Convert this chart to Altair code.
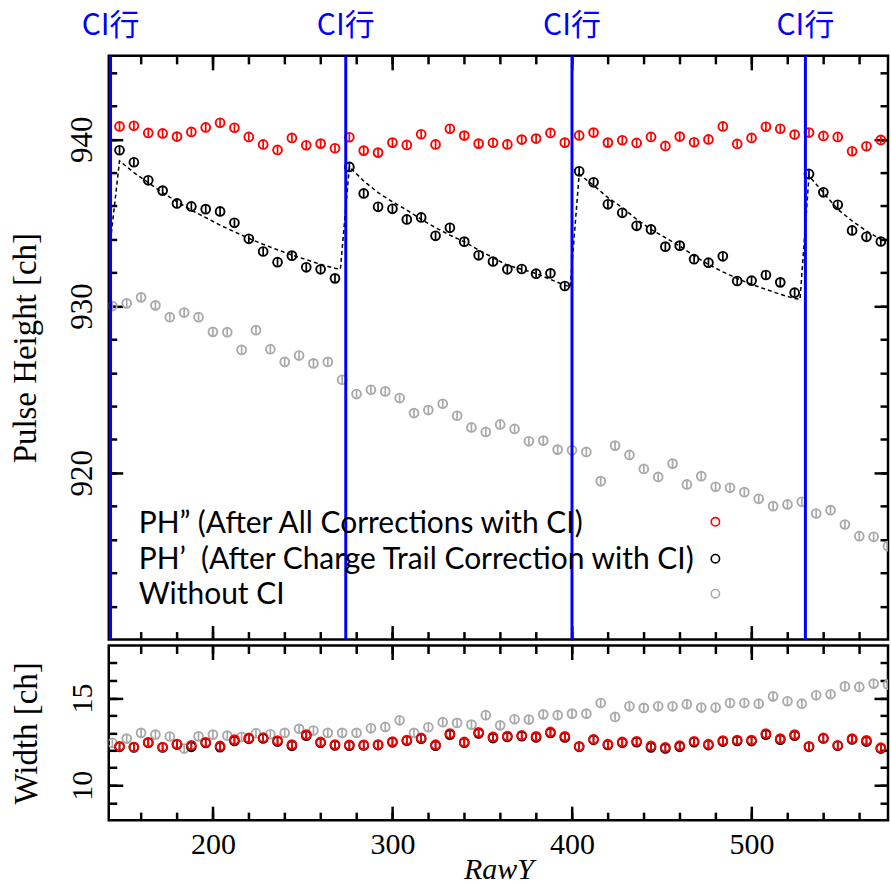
import altair as alt
import pandas as pd

# ---------------- data ----------------
ci_rows = [143, 274, 400, 530]
ci_text = ["CI行", "CI行", "CI行", "CI行"]

rawy_ci = [148, 156, 164, 172, 180, 188, 196, 204, 212, 220, 228, 236, 244, 252, 260, 268,
           276, 284, 292, 300, 308, 316, 324, 332, 340, 348, 356, 364, 372, 380, 388, 396,
           404, 412, 420, 428, 436, 444, 452, 460, 468, 476, 484, 492, 500, 508, 516, 524,
           532, 540, 548, 556, 564, 572]
rawy_noci = [144, 152, 160, 168, 176, 184, 192, 200, 208, 216, 224, 232, 240, 248, 256, 264,
             272, 280, 288, 296, 304, 312, 320, 328, 336, 344, 352, 360, 368, 376, 384, 392,
             400, 408, 416, 424, 432, 440, 448, 456, 464, 472, 480, 488, 496, 504, 512, 520,
             528, 536, 544, 552, 560, 568, 576]

ph_all = [940.77, 940.81, 940.38, 940.35, 940.16, 940.44, 940.71, 940.99, 940.69, 940.14,
          939.69, 939.36, 940.08, 939.64, 939.74, 939.46, 940.12, 939.32, 939.20, 939.80,
          939.66, 940.30, 939.69, 940.63, 940.22, 939.74, 939.79, 939.69, 939.98, 940.04,
          940.38, 939.80, 940.23, 940.40, 939.80, 939.94, 939.78, 940.14, 939.60, 940.16,
          939.82, 939.99, 940.77, 939.72, 940.08, 940.75, 940.63, 940.28, 940.40, 940.20,
          940.14, 939.28, 939.58, 939.96]
ph_trail = [939.34, 938.62, 937.54, 936.92, 936.15, 935.97, 935.81, 935.67, 934.99, 934.03,
            933.27, 932.63, 933.02, 932.32, 932.20, 931.66, 938.34, 936.75, 935.95, 935.83,
            935.19, 935.31, 934.21, 934.69, 933.86, 933.04, 932.67, 932.20, 932.22, 931.94,
            931.96, 931.20, 938.08, 937.42, 936.10, 935.59, 934.81, 934.59, 933.56, 933.62,
            932.81, 932.60, 932.98, 931.50, 931.52, 931.86, 931.42, 930.80, 937.92, 936.82,
            936.07, 934.53, 934.15, 933.87]
ph_noci = [930.00, 930.16, 930.52, 930.04, 929.33, 929.61, 929.33, 928.45, 928.43, 927.37,
           928.55, 927.41, 926.65, 927.03, 926.56, 926.65, 925.58, 924.72, 924.98, 924.88,
           924.48, 923.58, 923.76, 924.14, 923.42, 922.72, 922.45, 922.90, 922.63, 921.89,
           921.93, 921.39, 921.35, 921.25, 919.50, 921.63, 921.07, 920.23, 919.75, 920.55,
           919.30, 919.80, 919.16, 919.10, 918.84, 918.44, 918.00, 918.10, 918.26, 917.56,
           917.76, 916.90, 916.20, 916.16, 915.60]

model_rawy = [143, 148, 156, 164, 172, 180, 188, 196, 204, 212, 220, 228, 236, 244, 252, 260, 268,
              271, 276, 284, 292, 300, 308, 316, 324, 332, 340, 348, 356, 364, 372, 380, 388, 396,
              399, 404, 412, 420, 428, 436, 444, 452, 460, 468, 476, 484, 492, 500, 508, 516, 524,
              527, 532, 540, 548, 556, 564, 572]
model_ph = [933.95, 938.70, 938.00, 937.40, 936.80, 936.25, 935.75, 935.30, 934.85, 934.45, 934.06,
            933.70, 933.37, 933.06, 932.78, 932.50, 932.26,
            932.20, 938.34, 937.50, 936.80, 936.25, 935.75, 935.20, 934.70, 934.25, 933.85, 933.35,
            932.90, 932.45, 932.20, 931.95, 931.60, 931.25,
            931.15, 937.90, 937.24, 936.50, 935.90, 935.20, 934.60, 934.10, 933.60, 933.00, 932.50,
            932.05, 931.65, 931.30, 931.00, 930.70, 930.45,
            930.40, 937.80, 936.80, 935.80, 935.10, 934.50, 934.00]

w_all = [12.23, 12.19, 12.46, 12.19, 12.36, 12.29, 12.46, 12.25, 12.61, 12.71,
         12.73, 12.56, 12.33, 12.90, 12.48, 12.33, 12.31, 12.31, 12.33, 12.50,
         12.59, 12.71, 12.32, 12.96, 12.48, 13.03, 12.77, 12.82, 12.86, 12.80,
         13.05, 12.80, 12.23, 12.63, 12.35, 12.48, 12.52, 12.25, 12.17, 12.27,
         12.52, 12.35, 12.56, 12.59, 12.59, 12.96, 12.67, 12.90, 12.23, 12.71,
         12.29, 12.67, 12.57, 12.15]
w_trail = [12.20, 12.17, 12.44, 12.16, 12.33, 12.20, 12.42, 12.18, 12.54, 12.66,
           12.68, 12.50, 12.26, 12.84, 12.44, 12.28, 12.27, 12.28, 12.30, 12.46,
           12.55, 12.66, 12.27, 12.90, 12.44, 12.97, 12.70, 12.77, 12.81, 12.74,
           13.00, 12.74, 12.20, 12.60, 12.31, 12.44, 12.47, 12.17, 12.11, 12.20,
           12.47, 12.30, 12.50, 12.54, 12.53, 12.90, 12.61, 12.84, 12.20, 12.68,
           12.26, 12.62, 12.50, 12.10]
w_noci = [12.42, 12.67, 13.00, 12.90, 12.79, 12.10, 12.80, 12.90, 12.84, 12.77,
          12.98, 12.92, 13.00, 13.23, 13.13, 13.00, 13.00, 13.00, 13.26, 13.34,
          13.72, 13.00, 13.32, 13.61, 13.57, 13.47, 14.01, 13.43, 13.78, 13.76,
          14.06, 14.01, 14.10, 14.10, 14.71, 13.91, 14.52, 14.43, 14.52, 14.52,
          14.64, 14.45, 14.45, 14.71, 14.71, 14.67, 15.09, 14.81, 14.67, 15.15,
          15.21, 15.66, 15.63, 15.82, 15.76]

ph_err = 0.22
w_err = 0.22

legend_labels = ["PH\u201d (After All Corrections with CI)",
                 "PH\u2019\u00a0 (After Charge Trail Correction with CI)",
                 "Without CI"]

x_major = [200, 300, 400, 500]
x_minor = [160, 180, 200, 220, 240, 260, 280, 300, 320, 340, 360, 380, 400, 420, 440, 460,
           480, 500, 520, 540, 560]
ph_major = [920, 930, 940]
ph_minor = [912, 914, 916, 918, 920, 922, 924, 926, 928, 930, 932, 934, 936, 938, 940, 942, 944]
w_major = [10, 15]
w_minor = [9, 10, 11, 12, 13, 14, 15, 16, 17]

RED, BLACK, GRAY, BLUE = "#ff0000", "#000000", "#aaaaaa", "#0000ff"
W = 781
H_TOP, H_BOT = 585, 175
SERIF = "Liberation Serif"

XS = alt.Scale(domain=[142, 576], nice=False, zero=False)
YS_TOP = alt.Scale(domain=[910, 945], nice=False, zero=False)
YS_BOT = alt.Scale(domain=[8, 18], nice=False, zero=False)


def mk(xs, ys, err):
    return pd.DataFrame({"x": xs, "y": ys,
                         "lo": [v - err for v in ys], "hi": [v + err for v in ys]})


def ax(orient, values, size, **kw):
    return alt.Axis(orient=orient, values=values, tickSize=size, offset=-size,
                    domain=False, grid=False, ticks=True, **kw)


def noax(orient, values, size):
    return ax(orient, values, size, labels=False, title=None)


def pts(df, color, ysc, xaxis, yaxis):
    return alt.Chart(df).mark_point(shape="circle", filled=False, size=78, strokeWidth=1.9,
                                    color=color, opacity=1, clip=True).encode(
        x=alt.X("x:Q", scale=XS, axis=xaxis),
        y=alt.Y("y:Q", scale=ysc, axis=yaxis))


def errs(df, color, ysc):
    return alt.Chart(df).mark_rule(color=color, strokeWidth=1.7, clip=True).encode(
        x=alt.X("x:Q", scale=XS, axis=None),
        y=alt.Y("lo:Q", scale=ysc, axis=None),
        y2="hi:Q")


def left_major(values, title, lsize):
    return ax("left", values, 14, labels=True, labelAngle=270, labelAlign="center",
              labelBaseline="alphabetic", labelPadding=17, labelFontSize=lsize,
              labelFont=SERIF, title=title, titleFontSize=33, titleFont=SERIF,
              titleFontWeight="normal", titlePadding=24,
              labelFlush=False, labelOverlap=False)


# ---------------- top panel ----------------
top_red = mk(rawy_ci, ph_all, ph_err)
top_black = mk(rawy_ci, ph_trail, ph_err)
top_gray = mk(rawy_noci, ph_noci, ph_err)
model_df = pd.DataFrame({"x": model_rawy, "y": model_ph})
ci_df = pd.DataFrame({"ci": ci_rows, "t": ci_text})

top_layers = [
    errs(top_gray, GRAY, YS_TOP),
    pts(top_gray, GRAY, YS_TOP, noax("top", x_major, 14), noax("right", ph_major, 14)),
    alt.Chart(model_df).mark_line(color=BLACK, strokeWidth=1.5, strokeDash=[4, 3]).encode(
        x=alt.X("x:Q", scale=XS, axis=noax("top", x_minor, 8)),
        y=alt.Y("y:Q", scale=YS_TOP, axis=noax("right", ph_minor, 8)),
        order="x:Q"),
    errs(top_black, BLACK, YS_TOP),
    pts(top_black, BLACK, YS_TOP, noax("bottom", x_minor, 8), noax("left", ph_minor, 8)),
    errs(top_red, RED, YS_TOP),
    pts(top_red, RED, YS_TOP, noax("bottom", x_major, 14),
        left_major(ph_major, "Pulse Height [ch]", 31)),
    alt.Chart(ci_df).mark_rule(color=BLUE, strokeWidth=3).encode(
        x=alt.X("ci:Q", scale=XS, axis=None)),
    alt.Chart(ci_df).mark_text(color=BLUE, font="Noto Sans CJK JP", fontSize=30,
                               baseline="middle", align="center").encode(
        x=alt.X("ci:Q", scale=XS, axis=None), y=alt.value(-30), text="t:N"),
]

leg_colors = [RED, BLACK, GRAY]
leg_text_y = [469, 505, 540]
leg_mark_y = [467, 504, 539]
for i in range(3):
    top_layers.append(
        alt.Chart(pd.DataFrame({"t": [legend_labels[i]]})).mark_text(
            align="left", baseline="middle", font="Lato", fontSize=30, color="black").encode(
            x=alt.value(30), y=alt.value(leg_text_y[i]), text="t:N"))
    top_layers.append(
        alt.Chart(pd.DataFrame({"c": [leg_colors[i]]})).mark_point(
            shape="circle", filled=False, size=70, strokeWidth=1.6, color=leg_colors[i],
            opacity=1).encode(x=alt.value(608), y=alt.value(leg_mark_y[i])))

top = alt.layer(*top_layers).resolve_axis(x="independent", y="independent").properties(
    width=W, height=H_TOP)

# ---------------- bottom panel ----------------
bot_red = mk(rawy_ci, w_all, w_err)
bot_black = mk(rawy_ci, w_trail, w_err)
bot_gray = mk(rawy_noci, w_noci, w_err)

bottom_major_x = ax("bottom", x_major, 14, labels=True, labelFontSize=30, labelFont=SERIF,
                    labelPadding=9, labelFlush=False, labelOverlap=False,
                    title="RawY", titleFontSize=30, titleFont=SERIF, titleFontStyle="italic",
                    titleFontWeight="normal", titlePadding=-5)

bot_layers = [
    errs(bot_gray, GRAY, YS_BOT),
    pts(bot_gray, GRAY, YS_BOT, noax("top", x_major, 14), noax("right", w_major, 14)),
    alt.Chart(pd.DataFrame({"x": [x_minor[0]], "y": [w_minor[0]]})).mark_point(opacity=0).encode(
        x=alt.X("x:Q", scale=XS, axis=noax("top", x_minor, 8)),
        y=alt.Y("y:Q", scale=YS_BOT, axis=noax("right", w_minor, 8))),
    errs(bot_black, BLACK, YS_BOT),
    pts(bot_black, BLACK, YS_BOT, noax("bottom", x_minor, 8), noax("left", w_minor, 8)),
    errs(bot_red, RED, YS_BOT),
    pts(bot_red, RED, YS_BOT, bottom_major_x, left_major(w_major, "Width [ch]", 30)),
]

bottom = alt.layer(*bot_layers).resolve_axis(x="independent", y="independent").properties(
    width=W, height=H_BOT)

chart = alt.vconcat(top, bottom, spacing=0).resolve_scale(
    x="independent", y="independent").properties(
    padding={"left": 8, "top": 8, "right": 0, "bottom": 0}
).configure_view(stroke="black", strokeWidth=2.5).configure_axis(
    grid=False, tickColor="black", tickWidth=2.5, labelColor="black", titleColor="black")

chart.save("out.html", embed_options={"renderer": "svg", "actions": False})
